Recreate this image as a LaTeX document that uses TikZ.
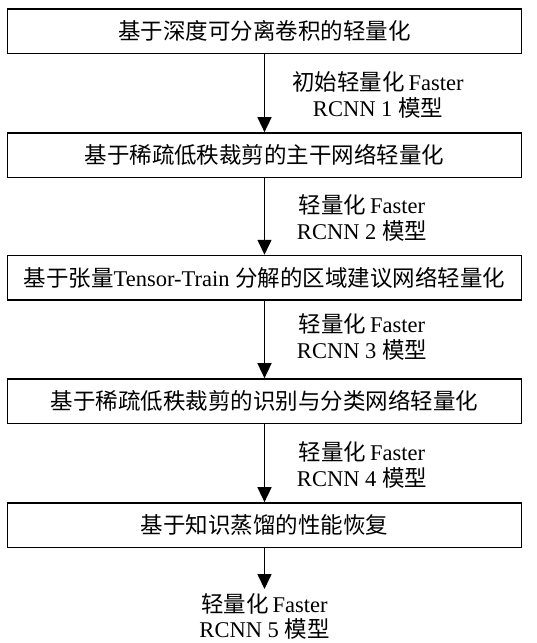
\documentclass[tikz,border=0pt]{standalone}
\usepackage{fontspec}
\setmainfont{Liberation Serif}
\newfontfamily\cjk{Noto Sans CJK SC}
\usetikzlibrary{arrows.meta}
\newcommand{\zh}[1]{{\cjk #1}}
\begin{document}
\begin{tikzpicture}[x=1pt,y=-1pt,
  box/.style={draw, line width=1.6pt, minimum width=514pt, minimum height=44.5pt, inner sep=0pt, font=\fontsize{22.5}{26}\selectfont},
  lab/.style={align=center, inner sep=0pt, font=\fontsize{22.5}{26}\selectfont},
  arr/.style={line width=1.6pt, -{Triangle[length=15pt,width=14pt]}}]
\useasboundingbox (0,0) rectangle (536,643);
\node[box] (b1) at (264.5,31.3) {\zh{基于深度可分离卷积的轻量化}};
\node[box] (b2) at (264.5,155.2) {\zh{基于稀疏低秩裁剪的主干网络轻量化}};
\node[box] (b3) at (264.5,277.8) {\zh{基于张量}Tensor-Train \zh{分解的区域建议网络轻量化}};
\node[box] (b4) at (264.5,401.2) {\zh{基于稀疏低秩裁剪的识别与分类网络轻量化}};
\node[box] (b5) at (264.5,525.2) {\zh{基于知识蒸馏的性能恢复}};
\node[lab] (l1) at (378,95) {\zh{初始轻量化}\,Faster\\RCNN 1 \zh{模型}};
\node[lab] (l2) at (362,217.5) {\zh{轻量化}\,Faster\\RCNN 2 \zh{模型}};
\node[lab] (l3) at (362,337) {\zh{轻量化}\,Faster\\RCNN 3 \zh{模型}};
\node[lab] (l4) at (362,464.5) {\zh{轻量化}\,Faster\\RCNN 4 \zh{模型}};
\node[lab, anchor=north, font=\fontsize{22.5}{25}\selectfont] (out) at (264.5,593) {\zh{轻量化}\,Faster\\RCNN 5 \zh{模型}};
\coordinate (tip) at (264.5,589);
\draw[arr] (b1) -- (b2);
\draw[arr] (b2) -- (b3);
\draw[arr] (b3) -- (b4);
\draw[arr] (b4) -- (b5);
\draw[arr] (b5) -- (tip);
\end{tikzpicture}
\end{document}
